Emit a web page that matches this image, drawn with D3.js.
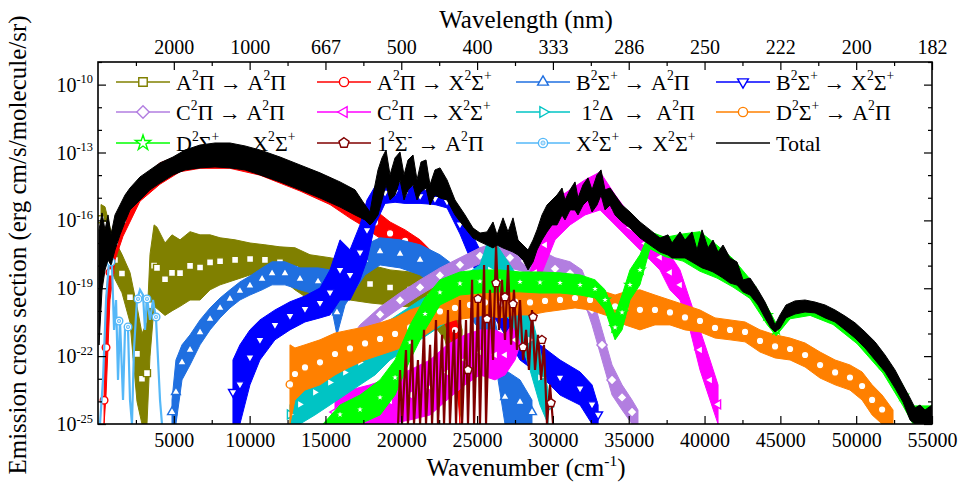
<!DOCTYPE html>
<html>
<head>
<meta charset="utf-8">
<script src="https://cdn.jsdelivr.net/npm/d3@7"></script>
<style>
  body { margin: 0; background: #fff; }
  svg { display: block; }
  text { font-family: "Liberation Serif", "Times New Roman", Times, serif; fill: #000; }
</style>
</head>
<body>
<svg id="chart" width="960" height="486" font-family="Liberation Serif, serif"></svg>
<script>
// ---- axis values ----
const wnMajor = [5000, 10000, 15000, 20000, 25000, 30000, 35000, 40000, 45000, 50000, 55000];
const wnMinor = [2500, 7500, 12500, 17500, 22500, 27500, 32500, 37500, 42500, 47500, 52500];
const wlLabels = ["2000", "1000", "667", "500", "400", "333", "286", "250", "222", "200", "182"];
const yMajorExp = [-25, -22, -19, -16, -13, -10];
const yMinorExp = [-24, -23, -21, -20, -18, -17, -15, -14, -12, -11, -9];

// ---- series: [wavenumber, upper log10, lower log10] envelopes of the dense spectra ----
const aPiToAPi = [[200,-15.3,-16.6],[460,-15.4,-17.0],[790,-16.3,-18.0],[1120,-16.9,-18.6],[1580,-17.5,-19.2],
  [2110,-18.3,-20.5],[2570,-19.8,-24.0],[2900,-21.0,-25],[3230,-20.5,-25],[3430,-17.5,-22.0],[3700,-16.2,-19.8],
  [3890,-16.3,-19.9],[4420,-17.0,-20.2],[4880,-16.64,-20.0],[5410,-16.86,-19.8],[6070,-16.50,-19.52],[6730,-16.64,-19.52],
  [7390,-16.64,-19.07],[8050,-16.77,-18.85],[9040,-16.86,-18.63],[10030,-17.0,-18.41],[11010,-17.08,-18.41],
  [12000,-17.17,-18.54],[12990,-17.21,-19.07],[13980,-17.52,-19.52],[15300,-17.65,-19.38],[16620,-17.83,-19.52],
  [17940,-17.97,-19.65],[19260,-18.19,-19.74],[20580,-18.28,-19.83],[21900,-18.41,-20.40],[22880,-18.85,-21.28],
  [23540,-19.52,-23.05],[24010,-20.84,-25]];

const aPiToXSig = [[400,-22.9,-25],[530,-19.52,-23.72],[790,-17.08,-19.52],[1120,-16.2,-17.75],[1650,-15.31,-16.7],
  [2770,-14.21,-15.15],[4090,-13.46,-14.4],[5410,-13.11,-13.85],[6730,-12.89,-13.7],[8700,-12.89,-13.7],[10680,-13.11,-14.0],
  [13320,-13.68,-14.7],[15300,-14.12,-15.3],[16620,-14.65,-15.9],[17610,-15.31,-16.3],[18270,-15.54,-16.64],
  [19260,-16.07,-17.08],[20250,-16.42,-17.39],[21240,-16.86,-17.97],[22220,-17.52,-19.07],[23020,-19.07,-20.84],
  [23540,-19.96,-21.73],[23870,-21.28,-25]];

const bSigToAPi = [[4880,-23.94,-25],[5140,-22.17,-25],[5540,-21.5,-23.05],[6070,-21.06,-22.39],[6730,-20.4,-21.5],
  [7390,-19.87,-20.84],[8050,-19.43,-20.31],[8700,-19.07,-19.87],[9360,-18.72,-19.52],[10020,-18.46,-19.3],
  [10820,-18.1,-19.07],[11480,-17.83,-18.85],[12330,-17.83,-18.85],[13320,-18.1,-19.07],[14510,-18.1,-19.3],
  [15300,-18.19,-19.52],[15760,-19.07,-21.06],[16290,-18.19,-19.74],[16950,-16.86,-19.07],[17610,-17.08,-18.41],
  [18600,-16.77,-17.97],[19920,-16.86,-18.1],[21240,-17.08,-18.41],[22550,-17.52,-19.07],[23870,-18.19,-19.74],
  [25190,-19.07,-20.84],[26180,-20.4,-22.17],[26840,-22.61,-25],[27830,-23.05,-25],[28620,-23.94,-25]];

const bSigToXSig = [[8900,-22.17,-25],[9360,-21.5,-25],[10020,-20.84,-23.27],[10680,-20.4,-22.17],[11670,-19.96,-21.28],
  [12660,-19.6,-20.84],[13650,-19.34,-20.49],[14640,-18.99,-20.31],[15300,-18.19,-20.18],[15960,-16.86,-19.52],
  [16620,-17.3,-19.52],[17280,-16.2,-18.63],[17740,-15.1,-17.75],[18270,-14.5,-16.2],[18930,-14.3,-15.25],
  [19590,-14.3,-15.2],[20250,-14.4,-15.25],[21240,-14.6,-15.25],[22220,-14.8,-15.3],[23020,-14.9,-15.45],
  [23870,-15.76,-16.6],[24860,-16.86,-18.2],[25850,-18.19,-19.96],[26840,-19.52,-21.06],[27830,-20.84,-22.17],
  [29150,-21.5,-22.83],[30470,-22.17,-23.72],[31790,-22.7,-24.16],[32580,-23.27,-25],[32980,-24.16,-25]];

const cPiToAPi = [[16090,-21.73,-22.39],[17280,-20.62,-21.5],[18600,-19.83,-20.49],[19920,-19.2,-19.87],[21240,-18.63,-19.3],
  [22550,-18.1,-18.77],[23870,-17.65,-18.28],[25190,-17.21,-17.92],[26180,-16.99,-17.83],[27170,-17.21,-18.1],
  [28160,-17.3,-18.28],[29150,-17.3,-18.41],[30140,-17.65,-18.63],[31130,-17.83,-18.85],[31920,-18.19,-19.3],
  [32580,-19.3,-20.62],[33240,-20.84,-22.17],[33900,-22.39,-23.72],[34560,-23.27,-24.38],[35220,-23.94,-25],[35610,-24.38,-25]];

const cPiToXSig = [[15630,-23.94,-25],[16620,-23.5,-25],[17940,-23.27,-25],[19260,-22.97,-25],[20580,-22.61,-24.82],
  [21900,-22.17,-24.6],[23020,-21.5,-23.94],[24200,-21.06,-23.27],[25190,-20.84,-22.83],[26180,-20.84,-23.05],
  [26840,-21.06,-22.83],[27500,-20.4,-22.17],[28160,-19.07,-20.84],[28820,-17.52,-19.07],[29480,-16.2,-17.97],
  [30140,-15.1,-16.86],[31130,-14.65,-16.2],[32120,-14.21,-15.76],[33110,-13.86,-15.54],[34100,-14.87,-16.2],
  [35080,-15.76,-16.86],[36070,-16.51,-17.52],[37060,-17.08,-18.19],[37720,-17.52,-19.07],[38380,-18.19,-19.52],
  [39040,-19.52,-20.84],[39700,-20.84,-22.61],[40360,-22.17,-23.94],[40890,-23.27,-25]];

const deltaToAPi = [[12660,-24.16,-25],[13320,-23.27,-25],[14310,-22.61,-24.6],[15300,-22.17,-24.16],[16290,-21.73,-23.72],
  [17280,-21.28,-23.27],[18270,-20.84,-22.83],[19260,-20.4,-22.17],[20250,-19.96,-21.73],[21240,-19.52,-21.28],
  [22220,-19.16,-20.84],[23210,-18.85,-20.4],[24200,-18.41,-20.18],[25190,-17.97,-19.96],[25850,-16.64,-19.74],
  [26510,-17.3,-19.96],[27170,-17.97,-20.4],[27830,-18.63,-21.28],[28490,-19.96,-22.61],[29150,-21.73,-24.16],[29680,-23.5,-25]];

const dSigToAPi = [[12660,-21.5,-25],[12990,-21.64,-23.94],[13650,-21.5,-23.5],[14640,-21.28,-23.27],[15630,-20.98,-22.83],
  [16620,-20.84,-22.48],[17610,-20.71,-22.17],[18600,-20.53,-21.95],[19590,-20.31,-21.73],[20580,-19.96,-21.5],
  [21570,-19.74,-21.06],[22550,-19.43,-20.62],[23540,-19.34,-20.4],[24530,-19.16,-20.31],[25520,-19.07,-20.18],
  [26510,-19.07,-20.31],[27500,-18.99,-20.18],[28490,-19.07,-20.18],[29480,-19.07,-20.05],[30470,-19.07,-19.96],
  [31460,-18.99,-19.87],[32450,-19.07,-19.96],[33440,-19.16,-20.18],[34100,-19.3,-20.31],[34760,-19.16,-20.62],
  [35740,-19.07,-20.84],[36730,-19.3,-20.62],[37720,-19.52,-20.62],[38710,-19.74,-20.84],[39700,-19.96,-20.93],
  [40690,-20.31,-21.2],[41680,-20.4,-21.28],[42670,-20.49,-21.37],[43660,-20.84,-21.82],[44650,-21.06,-22.08],
  [45640,-21.2,-22.17],[46630,-21.42,-22.48],[47620,-21.82,-22.97],[48610,-22.17,-23.27],[49590,-22.39,-23.5],
  [50390,-22.7,-23.94],[51050,-23.27,-24.6],[51710,-23.72,-25],[52430,-24.38,-25]];

const dSigToXSig = [[14840,-25,-25],[15960,-24.16,-25],[17280,-23.72,-25],[18600,-23.05,-24.6],[19590,-22.17,-23.72],
  [20580,-20.62,-22.17],[21570,-19.43,-20.84],[22550,-18.63,-19.74],[23870,-18.28,-19.3],
  [25190,-18.19,-19.21],[26510,-18.19,-19.16],[27830,-18.28,-19.16],[29150,-18.28,-19.21],[30470,-18.32,-19.21],
  [31790,-18.41,-19.3],[32780,-18.63,-19.43],[33440,-19.07,-19.96],[34100,-20.18,-21.28],[34560,-19.3,-20.84],
  [35080,-18.19,-19.52],[35740,-17.52,-18.85],[36400,-16.5,-17.25],[37390,-16.75,-17.6],[38580,-16.6,-17.8],
  [39700,-16.5,-18.25],[40820,-17.1,-18.55],[41880,-17.7,-18.95],[43000,-18.6,-19.45],[44120,-19.8,-20.6],
  [44720,-20.55,-21.1],[45640,-19.7,-20.35],[46960,-19.6,-20.2],[48470,-19.95,-20.6],[50060,-20.65,-21.45],
  [51770,-21.9,-22.75],[53090,-23.3,-24.2],[53750,-24.2,-25],[55000,-24.2,-25]];

const totalBand = [[66,-16.42,-21.51],[264,-15.67,-19.08],[462,-16.42,-18.19],[660,-15.76,-17.75],[857,-16.64,-17.97],
  [1121,-15.76,-17.31],[1451,-15.32,-16.64],[1781,-14.88,-16.07],[2110,-14.57,-15.54],[2770,-14.08,-15.1],
  [3429,-13.77,-14.65],[4089,-13.46,-14.35],[4946,-13.2,-13.99],[5738,-12.89,-13.77],[6727,-12.67,-13.68],
  [7716,-12.58,-13.64],[8705,-12.58,-13.68],[9695,-12.71,-13.77],[10684,-12.89,-13.99],[12003,-13.2,-14.3],
  [13322,-13.55,-14.65],[14641,-13.9,-15.01],[15960,-14.3,-15.41],[16949,-14.65,-15.76],[17609,-15.32,-15.98],
  [17938,-15.63,-16.2],[18136,-14.88,-16.07],[18466,-13.77,-15.76],[18730,-13.24,-15.1],[18994,-12.89,-14.43],
  [19258,-13.99,-15.1],[19588,-13.24,-14.88],[19917,-12.98,-14.21],[20181,-13.99,-15.1],[20445,-13.33,-14.65],
  [20775,-13.11,-14.43],[21038,-14.21,-15.1],[21302,-13.42,-14.74],[21632,-13.33,-14.57],[21895,-14.43,-15.32],
  [22225,-13.77,-14.88],[22555,-13.68,-15.01],[23017,-14.21,-15.1],[23544,-15.1,-15.76],[24204,-15.76,-16.34],
  [24731,-16.34,-16.78],[25193,-16.56,-16.95],[25655,-16.51,-17.09],[26050,-16.07,-17.22],[26314,-16.64,-17.09],
  [26710,-15.89,-17.22],[27040,-16.51,-17.31],[27369,-15.89,-17.4],[27699,-16.87,-17.53],[28029,-17.09,-17.75],
  [28359,-17.31,-18.19],[28688,-16.87,-17.84],[28952,-16.42,-17.31],[29282,-15.76,-16.87],[29612,-15.32,-16.51],
  [29941,-15.1,-16.2],[30271,-14.88,-16.2],[30601,-14.57,-15.76],[30799,-15.1,-15.98],[31129,-14.65,-15.54],
  [31458,-14.3,-15.54],[31656,-15.01,-15.76],[31986,-14.43,-15.32],[32316,-14.12,-15.1],[32580,-14.65,-15.63],
  [32909,-13.99,-15.32],[33173,-13.77,-14.88],[33437,-14.65,-15.54],[33767,-14.57,-15.32],[34096,-14.88,-15.76],
  [34558,-15.32,-16.07],[35085,-15.63,-16.34],[35745,-16.07,-16.78],[36404,-16.42,-17.09],[37064,-16.78,-17.4],
  [37592,-16.64,-17.53],[37855,-17.0,-17.66],[38383,-16.51,-17.66],[38712,-16.87,-17.66],[39174,-16.51,-17.84],
  [39504,-17.31,-17.97],[39834,-16.42,-18.1],[40229,-17.22,-18.19],[40559,-16.87,-18.28],[40889,-17.4,-18.41],
  [41219,-17.09,-18.55],[41680,-17.66,-18.77],[42142,-17.84,-18.86],[42538,-18.63,-19.16],[43000,-18.55,-19.3],
  [43527,-19.08,-19.74],[43989,-19.61,-20.31],[44384,-20.18,-20.76],[44648,-20.62,-20.93],[44978,-20.18,-20.76],
  [45374,-19.74,-20.31],[45967,-19.56,-20.14],[46627,-19.52,-20.05],[47286,-19.61,-20.09],[47946,-19.74,-20.31],
  [48605,-19.96,-20.49],[49265,-20.23,-20.84],[49924,-20.53,-21.2],[50584,-20.93,-21.64],[51243,-21.37,-22.17],
  [51903,-21.95,-22.7],[52562,-22.61,-23.41],[53090,-23.28,-24.03],[53551,-23.85,-24.82],[53881,-24.29,-25],
  [54211,-24.16,-25],[54541,-24.38,-25],[55000,-24.16,-25]];

// ---- comb-like series: [wavenumber, log10] traced points ----
const sigMinusToAPi = [[19790,-25],[19920,-22.61],[20050,-25],[20310,-21.73],[20440,-25],[20710,-21.28],[20840,-25],
  [21100,-22.17],[21240,-25],[21500,-20.84],[21630,-25],[21900,-21.5],[22030,-25],[22290,-20.4],[22420,-25],[22690,-21.06],
  [22820,-25],[23080,-19.96],[23210,-25],[23480,-20.84],[23610,-25],[23870,-19.52],[24010,-25],[24270,-20.4],[24400,-25],
  [24670,-18.63],[24800,-25],[25060,-19.52],[25190,-25],[25460,-17.97],[25590,-25],[25850,-19.07],[26050,-22.17],
  [26250,-17.08],[26450,-20.84],[26640,-18.63],[26840,-21.28],[27040,-17.97],[27240,-21.5],[27430,-19.07],[27630,-21.73],
  [27830,-19.52],[28030,-22.17],[28230,-20.84],[28420,-22.61],[28620,-19.96],[28820,-22.61],[29020,-21.06],[29220,-23.05],
  [29410,-21.5],[29610,-25],[29810,-23.27],[30010,-25]];
const sigMinusMarks = [[24400,-22.61],[25060,-19.47],[25655,-20.36],[26250,-18.77],[26840,-19.39],[27370,-19.7],
  [28030,-21.6],[28690,-20.27],[29280,-21.28],[29875,-24.07]];

const xSigToXSig = [[130,-25],[330,-23.05],[530,-19.52],[730,-17.83],[920,-17.97],[1060,-20.84],[1190,-19.52],[1320,-23.05],
  [1450,-20.4],[1650,-23.94],[1780,-20.84],[1980,-20.84],[2110,-23.94],[2240,-25],[2370,-21.73],[2570,-19.52],[2770,-19.07],
  [2970,-19.3],[3100,-20.84],[3230,-19.43],[3430,-20.4],[3630,-19.52],[3830,-20.4],[3960,-22.17],[4090,-23.94],[4220,-25]];
const xSigMarks = [[857,-17.84],[1385,-20.45],[1980,-20.71],[2640,-19.47],[3230,-19.47],[3830,-20.27]];

// ---- legend / style lists (legend order) ----
const labels = ["A^2Π → A^2Π", "A^2Π → X^2Σ^+", "B^2Σ^+ → A^2Π", "B^2Σ^+ → X^2Σ^+",
  "C^2Π → A^2Π", "C^2Π → X^2Σ^+", " 1^2Δ  →  A^2Π", "D^2Σ^+ → A^2Π",
  "D^2Σ^+ → X^2Σ^+", "1^2Σ^- → A^2Π", "X^2Σ^+ → X^2Σ^+", "Total"];
const colors = ["#808000", "#ff0000", "#1f6fe0", "#0000ff", "#b27ee0", "#ff00ff",
  "#00c4c4", "#ff8000", "#00ff00", "#800000", "#55b8f8", "#000000"];
const shapes = ["square", "circle", "up", "down", "diamond", "left", "right", "hex", "star", "pentagon", "dotcircle", null];

const series = [
  { band: aPiToAPi }, { band: aPiToXSig }, { band: bSigToAPi }, { band: bSigToXSig },
  { band: cPiToAPi }, { band: cPiToXSig }, { band: deltaToAPi }, { band: dSigToAPi },
  { band: dSigToXSig }, { line: sigMinusToAPi, marks: sigMinusMarks }, { line: xSigToXSig, marks: xSigMarks },
  { band: totalBand, noMarks: true }
];

// ---- scales ----
const svg = d3.select("#chart");
const x = d3.scaleLinear().domain([0, 55000]).range([98, 932]);
const y = d3.scaleLog().domain([1e-25, 1e-9]).range([424, 62]);
const ey = e => y(Math.pow(10, e));

// marker shapes
function poly(n, r, rot) {
  const pts = d3.range(n).map(i => {
    const a = -Math.PI / 2 + rot + i * 2 * Math.PI / n;
    return [r * Math.cos(a), r * Math.sin(a)];
  });
  return "M" + pts.map(p => p[0].toFixed(2) + "," + p[1].toFixed(2)).join("L") + "Z";
}
function markerPath(shape, r) {
  switch (shape) {
    case "square": return poly(4, r * 1.3, Math.PI / 4);
    case "circle": case "hex": case "dotcircle": return d3.symbol(d3.symbolCircle, Math.PI * r * r)();
    case "up": return poly(3, r * 1.35, 0);
    case "down": return poly(3, r * 1.35, Math.PI);
    case "left": return poly(3, r * 1.35, -Math.PI / 2);
    case "right": return poly(3, r * 1.35, Math.PI / 2);
    case "diamond": return poly(4, r * 1.35, 0);
    case "pentagon": return poly(5, r * 1.15, 0);
    case "star": return d3.symbol(d3.symbolStar, r * r * 3.4)();
  }
  return "";
}
function drawMarker(g, shape, color, cx, cy, r) {
  g.append("path")
    .attr("d", markerPath(shape, r))
    .attr("transform", `translate(${cx},${cy})`)
    .attr("fill", "#fff")
    .attr("stroke", color)
    .attr("stroke-width", 1.4);
  if (shape === "dotcircle") {
    g.append("circle").attr("cx", cx).attr("cy", cy).attr("r", r * 0.45)
      .attr("fill", color).attr("fill-opacity", 0.35).attr("stroke", color).attr("stroke-width", 0.8);
  }
}

// text with superscripts: "^x" or "^{..}"
function richText(sel, str, size) {
  const parts = str.split(/(\^\{[^}]*\}|\^.)/);
  let up = false;
  parts.forEach(p => {
    if (!p) return;
    if (p[0] === "^") {
      const s = p[1] === "{" ? p.slice(2, -1) : p.slice(1);
      sel.append("tspan").attr("font-size", size * 0.62).attr("dy", up ? 0 : -size * 0.42).text(s);
      up = true;
    } else {
      const t = sel.append("tspan").text(p);
      if (up) { t.attr("dy", size * 0.42); up = false; }
    }
  });
}

// ---- legend (drawn beneath the data, as in the figure) ----
const legendCols = [116, 317, 516, 716];
const legendRows = [82, 112, 143];
const legend = svg.append("g");
labels.forEach((lab, i) => {
  const lx = legendCols[i % 4], ly = legendRows[Math.floor(i / 4)];
  legend.append("line").attr("x1", lx).attr("x2", lx + 54).attr("y1", ly).attr("y2", ly)
    .attr("stroke", colors[i]).attr("stroke-width", 1.5);
  if (shapes[i]) drawMarker(legend, shapes[i], colors[i], lx + 27, ly, 4.6);
  const t = legend.append("text").attr("x", lx + 60).attr("y", ly + 7.5)
    .attr("font-size", 22).style("white-space", "pre");
  richText(t, lab, 22);
});

// ---- data ----
svg.append("clipPath").attr("id", "plotClip")
  .append("rect").attr("x", 98).attr("y", 62).attr("width", 834).attr("height", 362);
const plot = svg.append("g").attr("clip-path", "url(#plotClip)");

const area = d3.area()
  .x(d => x(d[0]))
  .y0(d => ey(d[2]))
  .y1(d => ey(d[1]));
const line = d3.line()
  .x(d => x(d[0]))
  .y(d => ey(d[1]));

series.forEach((s, i) => {
  const g = plot.append("g");
  if (s.band) {
    g.append("path").datum(s.band).attr("d", area)
      .attr("fill", colors[i]).attr("stroke", colors[i]).attr("stroke-width", 1).attr("stroke-linejoin", "bevel");
    if (!s.noMarks) {
      s.band.forEach(d => {
        const mid = (d[1] + d[2]) / 2;
        if (mid > -24.6) drawMarker(g, shapes[i], colors[i], x(d[0]), ey(mid), shapes[i] === "star" ? 3 : 3.8);
      });
    }
  } else {
    g.append("path").datum(s.line).attr("d", line)
      .attr("fill", "none").attr("stroke", colors[i]).attr("stroke-width", 2.2).attr("stroke-linejoin", "miter");
    s.marks.forEach(d => drawMarker(g, shapes[i], colors[i], x(d[0]), ey(d[1]), 3.8));
  }
});

// ---- axes ----
function styleAxis(g) {
  g.attr("font-family", null);
  g.select(".domain").remove();
  g.selectAll(".tick line").attr("stroke", "#000").attr("stroke-width", 1.2);
  g.selectAll(".tick text").attr("font-size", 20).attr("fill", "#000");
}

svg.append("g").attr("transform", "translate(0,424)")
  .call(d3.axisBottom(x).tickValues(wnMajor).tickSize(-8).tickSizeOuter(0).tickPadding(9).tickFormat(d3.format("d")))
  .call(styleAxis);
svg.append("g").attr("transform", "translate(0,424)")
  .call(d3.axisBottom(x).tickValues(wnMinor).tickSize(-4).tickSizeOuter(0).tickFormat(""))
  .call(styleAxis);
svg.append("g").attr("transform", "translate(0,62)")
  .call(d3.axisTop(x).tickValues(wnMajor).tickSize(-8).tickSizeOuter(0).tickPadding(8).tickFormat((d, i) => wlLabels[i]))
  .call(styleAxis);
svg.append("g").attr("transform", "translate(0,62)")
  .call(d3.axisTop(x).tickValues(wnMinor).tickSize(-4).tickSizeOuter(0).tickFormat(""))
  .call(styleAxis);

const yMajor = yMajorExp.map(e => Math.pow(10, e));
const yMinor = yMinorExp.map(e => Math.pow(10, e));
svg.append("g").attr("transform", "translate(98,0)")
  .call(d3.axisLeft(y).tickValues(yMajor).tickSize(-8).tickSizeOuter(0).tickFormat(""))
  .call(styleAxis);
svg.append("g").attr("transform", "translate(98,0)")
  .call(d3.axisLeft(y).tickValues(yMinor).tickSize(-4).tickSizeOuter(0).tickFormat(""))
  .call(styleAxis);
svg.append("g").attr("transform", "translate(932,0)")
  .call(d3.axisRight(y).tickValues(yMajor).tickSize(-8).tickSizeOuter(0).tickFormat(""))
  .call(styleAxis);
svg.append("g").attr("transform", "translate(932,0)")
  .call(d3.axisRight(y).tickValues(yMinor).tickSize(-4).tickSizeOuter(0).tickFormat(""))
  .call(styleAxis);

// y tick labels with exponents
yMajorExp.forEach(e => {
  const t = svg.append("text").attr("x", 93).attr("y", ey(e) + 7).attr("text-anchor", "end").attr("font-size", 20);
  richText(t, "10^{" + e + "}", 20);
});

// frame
svg.append("rect").attr("x", 98).attr("y", 62).attr("width", 834).attr("height", 362)
  .attr("fill", "none").attr("stroke", "#000").attr("stroke-width", 1.6);

// axis titles
const xt = svg.append("text").attr("x", 526).attr("y", 476).attr("text-anchor", "middle").attr("font-size", 25);
richText(xt, "Wavenumber (cm^{-1})", 25);
svg.append("text").attr("x", 526).attr("y", 28).attr("text-anchor", "middle").attr("font-size", 25)
  .text("Wavelength (nm)");
svg.append("text").attr("transform", "translate(26,245) rotate(-90)").attr("text-anchor", "middle")
  .attr("font-size", 25).text("Emission cross section (erg cm/s/molecule/sr)");
</script>
</body>
</html>
